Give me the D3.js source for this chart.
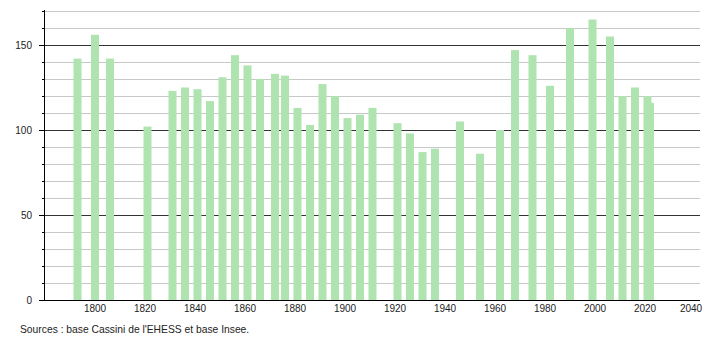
<!DOCTYPE html>
<html>
<head>
<meta charset="UTF-8" />
<title>Population</title>
<script src="https://d3js.org/d3.v7.min.js"></script>
<style type="text/css">
body {
    margin: 0;
    background-color: #fff;
    font-family: "Liberation Sans", Arial, sans-serif;
}
.grid line.minor {
    stroke: #c8c8c8;
    stroke-width: 1px;
}
.grid line.major {
    stroke: #333;
    stroke-width: 1px;
}
.bars rect {
    fill: #afe3af;
}
.axis text {
    font-size: 10px;
    fill: #222;
}
</style>
</head>
<body>
<svg width="710" height="340" id="chart"></svg>
<script type="text/javascript">
// census years and population
var years = [1793, 1800, 1806, 1821, 1831, 1836, 1841, 1846, 1851, 1856, 1861, 1866, 1872, 1876,
    1881, 1886, 1891, 1896, 1901, 1906, 1911, 1921, 1926, 1931, 1936, 1946, 1954, 1962, 1968,
    1975, 1982, 1990, 1999, 2006, 2011, 2016, 2021, 2022];
var population = [142, 156, 142, 102, 123, 125, 124, 117, 131, 144, 138, 130, 133, 132,
    113, 103, 127, 120, 107, 109, 113, 104, 98, 87, 89, 105, 86, 100, 147,
    144, 126, 160, 165, 155, 120, 125, 120, 116];
var yTicks = [0, 50, 100, 150];
var xTicks = [1800, 1820, 1840, 1860, 1880, 1900, 1920, 1940, 1960, 1980, 2000, 2020, 2040];
var source = "Sources : base Cassini de l'EHESS et base Insee.";

var svg = d3.select("#chart");

var x = d3.scaleLinear().domain([1780, 2042]).range([45, 700]);
var y = d3.scaleLinear().domain([0, 170]).range([300, 11]);
var barW = 8;

// grid
var grid = svg.append("g").attr("class", "grid");
grid.selectAll("line").data(d3.range(10, 171, 10)).enter().append("line")
    .attr("class", function(d) { return d % 50 == 0 ? "major" : "minor"; })
    .attr("x1", 44).attr("x2", 700)
    .attr("y1", function(d) { return Math.round(y(d)) + 0.5; })
    .attr("y2", function(d) { return Math.round(y(d)) + 0.5; });

// bars (later years drawn first so 2021 sits over 2022)
var data = years.map(function(d, i) { return {year: d, value: population[i]}; }).reverse();
svg.append("g").attr("class", "bars").selectAll("rect").data(data).enter().append("rect")
    .attr("x", function(d) { return x(d.year) - barW / 2; })
    .attr("width", barW)
    .attr("y", function(d) { return y(d.value); })
    .attr("height", function(d) { return y(0) - y(d.value); });

// y axis
var yAxis = svg.append("g").attr("class", "axis");
yAxis.append("line").attr("x1", 44.5).attr("x2", 44.5).attr("y1", 10).attr("y2", 300.5)
    .attr("stroke", "#000");
yAxis.selectAll("line.tick").data(d3.range(0, 171, 10)).enter().append("line")
    .attr("class", "tick")
    .attr("x1", function(d) { return d % 50 == 0 ? 39 : 42; }).attr("x2", 44)
    .attr("y1", function(d) { return Math.round(y(d)) + 0.5; })
    .attr("y2", function(d) { return Math.round(y(d)) + 0.5; })
    .attr("stroke", "#000");
yAxis.selectAll("text").data(yTicks).enter().append("text")
    .attr("x", 32).attr("y", function(d) { return y(d) + 4; })
    .attr("text-anchor", "end")
    .text(function(d) { return d; });

// x axis
var xAxis = svg.append("g").attr("class", "axis");
xAxis.append("line").attr("x1", 44).attr("x2", 700).attr("y1", 300.5).attr("y2", 300.5)
    .attr("stroke", "#000");
xAxis.selectAll("text").data(xTicks).enter().append("text")
    .attr("x", function(d) { return Math.min(x(d), 691); })
    .attr("y", 312)
    .attr("text-anchor", "middle")
    .text(function(d) { return d; });

svg.append("text").attr("class", "axis").attr("x", 20).attr("y", 333)
    .attr("font-size", "10.3px").attr("fill", "#222")
    .text(source);
</script>
</body>
</html>
